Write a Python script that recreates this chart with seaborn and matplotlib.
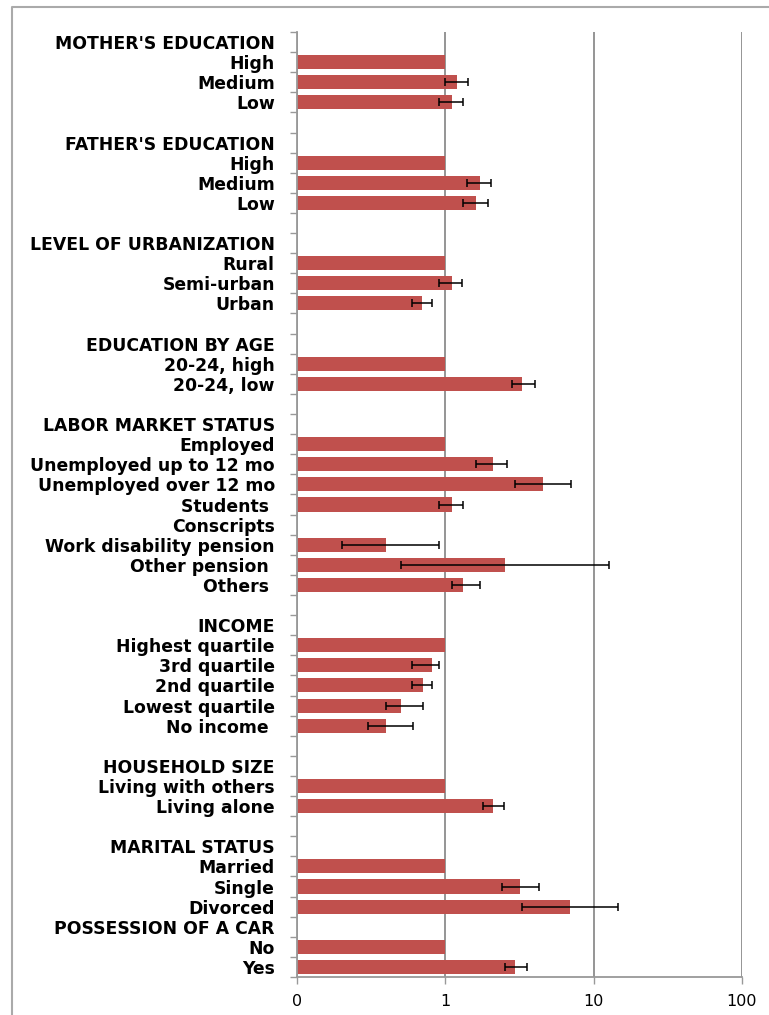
import numpy as np
import pandas as pd
import matplotlib
matplotlib.use("Agg")
import matplotlib.pyplot as plt
from matplotlib.lines import Line2D
import seaborn as sns

labels = ["MOTHER'S EDUCATION", "High", "Medium", "Low", "",
          "FATHER'S EDUCATION", "High", "Medium", "Low", "",
          "LEVEL OF URBANIZATION", "Rural", "Semi-urban", "Urban", "",
          "EDUCATION BY AGE", "20-24, high", "20-24, low", "",
          "LABOR MARKET STATUS", "Employed", "Unemployed up to 12 mo", "Unemployed over 12 mo",
          "Students ", "Conscripts", "Work disability pension", "Other pension ", "Others ", "",
          "INCOME", "Highest quartile", "3rd quartile", "2nd quartile", "Lowest quartile", "No income ", "",
          "HOUSEHOLD SIZE", "Living with others", "Living alone", "",
          "MARITAL STATUS", "Married", "Single", "Divorced",
          "POSSESSION OF A CAR", "No", "Yes"]

nan = np.nan
odds = [nan, 1.0, 1.20, 1.11, nan,
        nan, 1.0, 1.70, 1.61, nan,
        nan, 1.0, 1.11, 0.70, nan,
        nan, 1.0, 3.30, nan,
        nan, 1.0, 2.11, 4.54, 1.11, nan, 0.40, 2.52, 1.31, nan,
        nan, 1.0, 0.81, 0.71, 0.50, 0.40, nan,
        nan, 1.0, 2.10, nan,
        nan, 1.0, 3.21, 6.95,
        nan, 1.0, 2.93]
ci_low = [nan, nan, 1.00, 0.90, nan,
          nan, nan, 1.41, 1.31, nan,
          nan, nan, 0.90, 0.60, nan,
          nan, nan, 2.83, nan,
          nan, nan, 1.61, 2.93, 0.90, nan, 0.20, 0.50, 1.11, nan,
          nan, nan, 0.60, 0.60, 0.40, 0.30, nan,
          nan, nan, 1.80, nan,
          nan, nan, 2.41, 3.31,
          nan, nan, 2.51]
ci_high = [nan, nan, 1.42, 1.32, nan,
           nan, nan, 2.02, 1.93, nan,
           nan, nan, 1.30, 0.81, nan,
           nan, nan, 4.04, nan,
           nan, nan, 2.61, 7.06, 1.32, nan, 0.91, 12.7, 1.71, nan,
           nan, nan, 0.91, 0.81, 0.71, 0.61, nan,
           nan, nan, 2.50, nan,
           nan, nan, 4.25, 14.7,
           nan, nan, 3.55]

df = pd.DataFrame({"row": [f"r{i}" for i in range(len(labels))],
                   "label": labels, "odds": odds,
                   "lo": ci_low, "hi": ci_high})
df["pos"] = np.arange(len(df))

fig = plt.figure(figsize=(7.69, 10.15), dpi=100)
ax = fig.add_axes([297 / 769, 1 - 977 / 1015, (742 - 297) / 769, (977 - 32) / 1015])

sns.barplot(data=df, x="odds", y="row", order=list(df["row"]), orient="h",
            color="#C0504D", saturation=1, width=0.7, errorbar=None, ax=ax)
ax.set_xscale("log")
ax.set_xlim(0.1, 100)
ax.set_ylim(len(df) - 0.5, -0.5)

err = df.dropna(subset=["lo"])
ax.errorbar(err["odds"], err["pos"],
            xerr=[err["odds"] - err["lo"], err["hi"] - err["odds"]],
            fmt="none", ecolor="black", elinewidth=1.1, capsize=3, capthick=1.1)

# labels at rows, tick marks between rows
ax.set_yticks(df["pos"])
ax.set_yticklabels(df["label"], fontsize=12.4, fontweight="bold", family="DejaVu Sans")
ax.set_yticks(np.arange(-0.5, len(df)), minor=True)
ax.tick_params(axis="y", which="major", length=0, pad=16)
ax.tick_params(axis="y", which="minor", length=5, color="#999999", width=1)
ax.set_ylabel("")

ax.set_xticks([0.1, 1, 10, 100])
ax.set_xticklabels(["0", "1", "10", "100"], fontsize=11.5, family="DejaVu Sans")
ax.xaxis.set_minor_locator(matplotlib.ticker.NullLocator())
ax.tick_params(axis="x", length=5, color="#999999", width=1, pad=7)
ax.set_xlabel("")

ax.grid(axis="x", color="#8c8c8c", linewidth=1.3)
ax.set_axisbelow(True)
for s in ["top", "right"]:
    ax.spines[s].set_visible(False)
for s in ["left", "bottom"]:
    ax.spines[s].set_color("#999999")
    ax.spines[s].set_linewidth(1.3)

# outer chart border
fig.add_artist(Line2D([12 / 769, 12 / 769, 1.0], [0, 1 - 7 / 1015, 1 - 7 / 1015],
                      transform=fig.transFigure, color="#aaaaaa", linewidth=1.5))

fig.savefig("out.png", dpi=100)
